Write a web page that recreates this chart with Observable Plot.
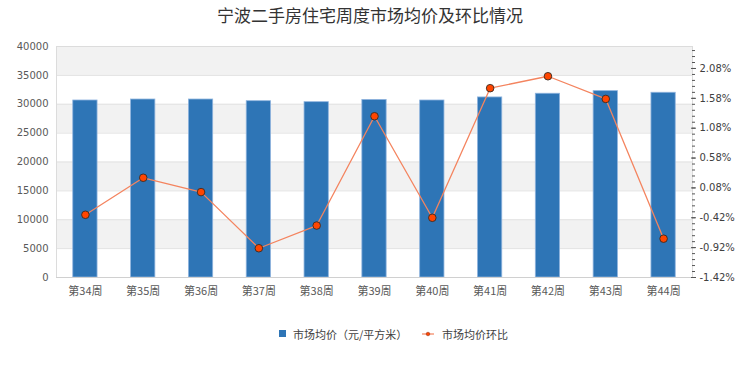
<!DOCTYPE html>
<html>
<head>
<meta charset="utf-8">
<script src="https://cdn.jsdelivr.net/npm/d3@7"></script>
<script src="https://cdn.jsdelivr.net/npm/@observablehq/plot@0.6"></script>
<style>
  html, body { margin: 0; padding: 0; background: #fff; }
  #wrap { position: relative; width: 740px; height: 370px; overflow: hidden; }
  #title { height: 30px; line-height: 30px; text-align: center; font-family: "Noto Sans CJK SC", sans-serif; font-size: 17px; color: #333; }
  #chart svg { display: block; }
  .leg { position: absolute; font-family: "Noto Sans CJK SC", sans-serif; font-size: 11px; color: #404040; line-height: 14px; }
</style>
</head>
<body>
<div id="wrap">
  <div id="title">宁波二手房住宅周度市场均价及环比情况</div>
  <div id="chart"></div>
  <div class="leg" style="left:279px; top:330px; width:7px; height:7px; background:#2e75b6;"></div>
  <div class="leg" id="leg1" style="left:293px; top:327px;"></div>
  <svg class="leg" style="left:421px; top:329px;" width="14" height="10"><line x1="1" y1="5" x2="13" y2="5" stroke="#f4845f" stroke-width="1.2"/><circle cx="7" cy="5" r="1.8" fill="#ff4500" stroke="#8a2a10" stroke-width="0.5"/></svg>
  <div class="leg" id="leg2" style="left:442px; top:327px;"></div>
</div>
<script>
const weeks = ["第34周", "第35周", "第36周", "第37周", "第38周", "第39周", "第40周", "第41周", "第42周", "第43周", "第44周"];
const prices = [30650, 30820, 30820, 30530, 30360, 30750, 30650, 31180, 31820, 32270, 31990];
const changes = [-0.37, 0.25, 0.01, -0.93, -0.55, 1.28, -0.42, 1.75, 1.95, 1.57, -0.77];
const leftTicks = [0, 5000, 10000, 15000, 20000, 25000, 30000, 35000, 40000];
const rightTicks = [-1.42, -0.92, -0.42, 0.08, 0.58, 1.08, 1.58, 2.08];
const seriesNames = ["市场均价（元/平方米）", "市场均价环比"];

document.getElementById("leg1").textContent = seriesNames[0];
document.getElementById("leg2").textContent = seriesNames[1];

const rightMin = -1.42, rightMax = 2.448, leftMax = 40000;
const toLeft = v => (v - rightMin) / (rightMax - rightMin) * leftMax;
const fromLeft = y => y / leftMax * (rightMax - rightMin) + rightMin;
const minorTicks = d3.range(0, 39).map(k => rightMin + k * 0.1);

const data = weeks.map((w, i) => ({week: w, price: prices[i], change: changes[i]}));
const bands = [[35000, 40000], [25000, 30000], [15000, 20000], [5000, 10000]].map(([lo, hi]) => ({lo, hi}));

const chart = Plot.plot({
  width: 740,
  height: 280,
  marginTop: 16,
  marginBottom: 33,
  marginLeft: 56,
  marginRight: 48,
  style: {fontFamily: "DejaVu Sans", fontSize: "10px", color: "#595959", background: "transparent"},
  x: {domain: weeks, paddingInner: 0.58, paddingOuter: 0.29, round: false, label: null},
  y: {domain: [0, leftMax], label: null},
  marks: [
    Plot.rect(bands, {y1: "lo", y2: "hi", fill: "#f2f2f2"}),
    Plot.ruleY(leftTicks, {stroke: "#e2e2e2"}),
    Plot.frame({stroke: "#dcdcdc"}),
    Plot.barY(data, {x: "week", y: "price", fill: "#2e75b6", stroke: "#8fb4de", strokeWidth: 0.8}),
    Plot.ruleY([0], {stroke: "#d0d0d0"}),
    Plot.line(data, {x: "week", y: d => toLeft(d.change), stroke: "#f4845f", strokeWidth: 1.3}),
    Plot.dot(data, {x: "week", y: d => toLeft(d.change), r: 3.8, fill: "#ff4500", stroke: "#3a2a20", strokeWidth: 0.9}),
    Plot.axisY(leftTicks, {anchor: "left", tickSize: 0, tickPadding: 8, tickFormat: d => String(d), fill: "#595959", fontSize: 10}),
    Plot.axisY(minorTicks.map(toLeft), {anchor: "right", tickSize: 3, tickFormat: () => "", stroke: "#555", dx: -1}),
    Plot.axisY(rightTicks.map(toLeft), {anchor: "right", tickSize: 5, tickPadding: 4, dx: -2, stroke: "#555", fill: "#404040", fontSize: 10, tickFormat: d => fromLeft(d).toFixed(2) + "%"}),
    Plot.axisX({anchor: "bottom", tickSize: 0, tickPadding: 10, fontSize: 11, fontFamily: "Noto Sans CJK SC", fill: "#595959"})
  ]
});
document.getElementById("chart").appendChild(chart);
</script>
</body>
</html>
